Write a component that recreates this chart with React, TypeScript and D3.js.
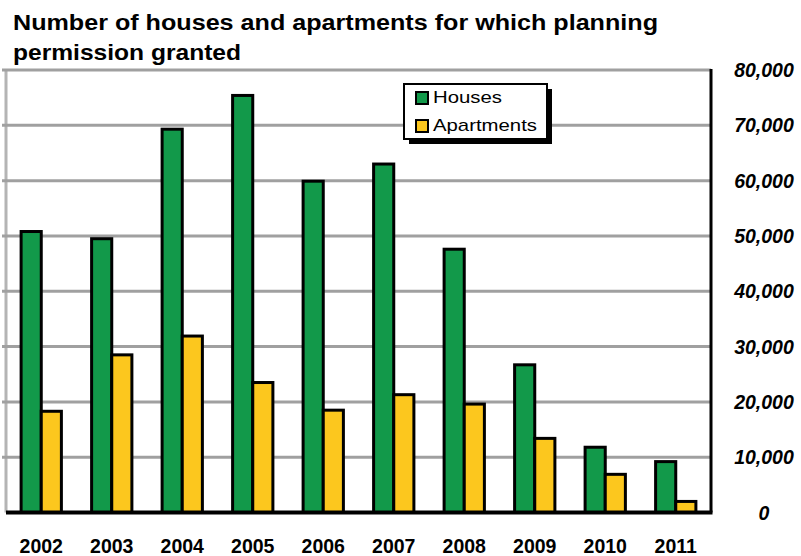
import React from "react";
import * as d3 from "d3";

const years = ["2002", "2003", "2004", "2005", "2006", "2007", "2008", "2009", "2010", "2011"];
const houses = [50800, 49500, 69300, 75400, 59900, 63000, 47600, 26700, 11800, 9200];
const apartments = [18300, 28500, 31900, 23500, 18500, 21300, 19600, 13400, 6900, 2000];
const yTicks = [0, 10000, 20000, 30000, 40000, 50000, 60000, 70000, 80000];
const seriesNames = ["Houses", "Apartments"];
const seriesColors = ["#12994A", "#FCC71E"];
const titleLines = ["Number of houses and apartments for which planning", "permission granted"];

const W = 801;
const H = 556;
const plotLeft = 6;
const plotRight = 711;
const plotTop = 70;
const plotBottom = 512.5;
const titleWidths = [645, 228];
const legendWidths = [69, 104];

export default function App() {
  const x = d3.scaleBand<string>().domain(years).range([plotLeft, plotRight]).paddingInner(0).paddingOuter(0);
  const y = d3.scaleLinear().domain([0, 80000]).range([plotBottom, plotTop]);
  const bw = x.bandwidth() / 3.5;
  const sub = d3.scaleBand<string>().domain(seriesNames).range([0.75 * bw, 2.75 * bw]);
  const fmt = d3.format(",");
  const data = [houses, apartments];

  return (
    <svg width={W} height={H} style={{ position: "absolute", left: 0, top: 0, background: "#fff" }}>
      <rect x={0} y={0} width={W} height={H} fill="#fff" />
      {titleLines.map((t, i) => (
        <text
          key={i}
          x={13}
          y={29.5 + i * 30}
          fontFamily="'Liberation Sans', Arial, sans-serif"
          fontWeight="bold"
          fontSize={22}
          textLength={titleWidths[i]}
          lengthAdjust="spacingAndGlyphs"
          fill="#000"
        >
          {t}
        </text>
      ))}
      {/* plot border (gray) */}
      <line x1={plotLeft} x2={plotLeft} y1={plotTop} y2={plotBottom} stroke="#b4b4b4" strokeWidth={3} />
      {yTicks.map((t) =>
        t === 0 ? null : (
          <line key={t} x1={plotLeft - 4} x2={plotRight} y1={y(t)} y2={y(t)} stroke="#a0a0a0" strokeWidth={3} />
        )
      )}
      {/* bars */}
      {years.map((yr, i) =>
        seriesNames.map((s, j) => {
          const v = data[j][i];
          const bx = (x(yr) as number) + (sub(s) as number);
          return (
            <rect
              key={yr + s}
              x={bx}
              y={y(v)}
              width={sub.bandwidth()}
              height={plotBottom - y(v)}
              fill={seriesColors[j]}
              stroke="#000"
              strokeWidth={3}
            />
          );
        })
      )}
      {/* axes */}
      <line x1={plotLeft} x2={plotRight + 1.5} y1={plotBottom} y2={plotBottom} stroke="#000" strokeWidth={4} />
      <line x1={plotRight} x2={plotRight} y1={plotTop - 1} y2={plotBottom} stroke="#000" strokeWidth={3} />
      {yTicks.map((t) => (
        <text
          key={"l" + t}
          x={764}
          y={y(t)}
          dy="0.36em"
          textAnchor="middle"
          fontFamily="'Liberation Sans', Arial, sans-serif"
          fontWeight="bold"
          fontStyle="italic"
          fontSize={19.5}
          fill="#000"
        >
          {fmt(t)}
        </text>
      ))}
      {years.map((yr) => (
        <text
          key={"x" + yr}
          x={(x(yr) as number) + x.bandwidth() / 2}
          y={552.5}
          textAnchor="middle"
          fontFamily="'Liberation Sans', Arial, sans-serif"
          fontWeight="bold"
          fontSize={19.5}
          fill="#000"
        >
          {yr}
        </text>
      ))}
      {/* legend */}
      <g>
        <rect x={409} y={89} width={143} height={55} fill="#000" />
        <rect x={404} y={84} width={143} height={55} fill="#fff" stroke="#000" strokeWidth={2} />
        {seriesNames.map((s, j) => (
          <g key={s}>
            <rect x={416} y={92 + j * 28} width={12} height={12} fill={seriesColors[j]} stroke="#000" strokeWidth={2} />
            <text
              x={433}
              y={103 + j * 28}
              fontFamily="'Liberation Sans', Arial, sans-serif"
              fontSize={17}
              textLength={legendWidths[j]}
              lengthAdjust="spacingAndGlyphs"
              fill="#000"
            >
              {s}
            </text>
          </g>
        ))}
      </g>
    </svg>
  );
}
